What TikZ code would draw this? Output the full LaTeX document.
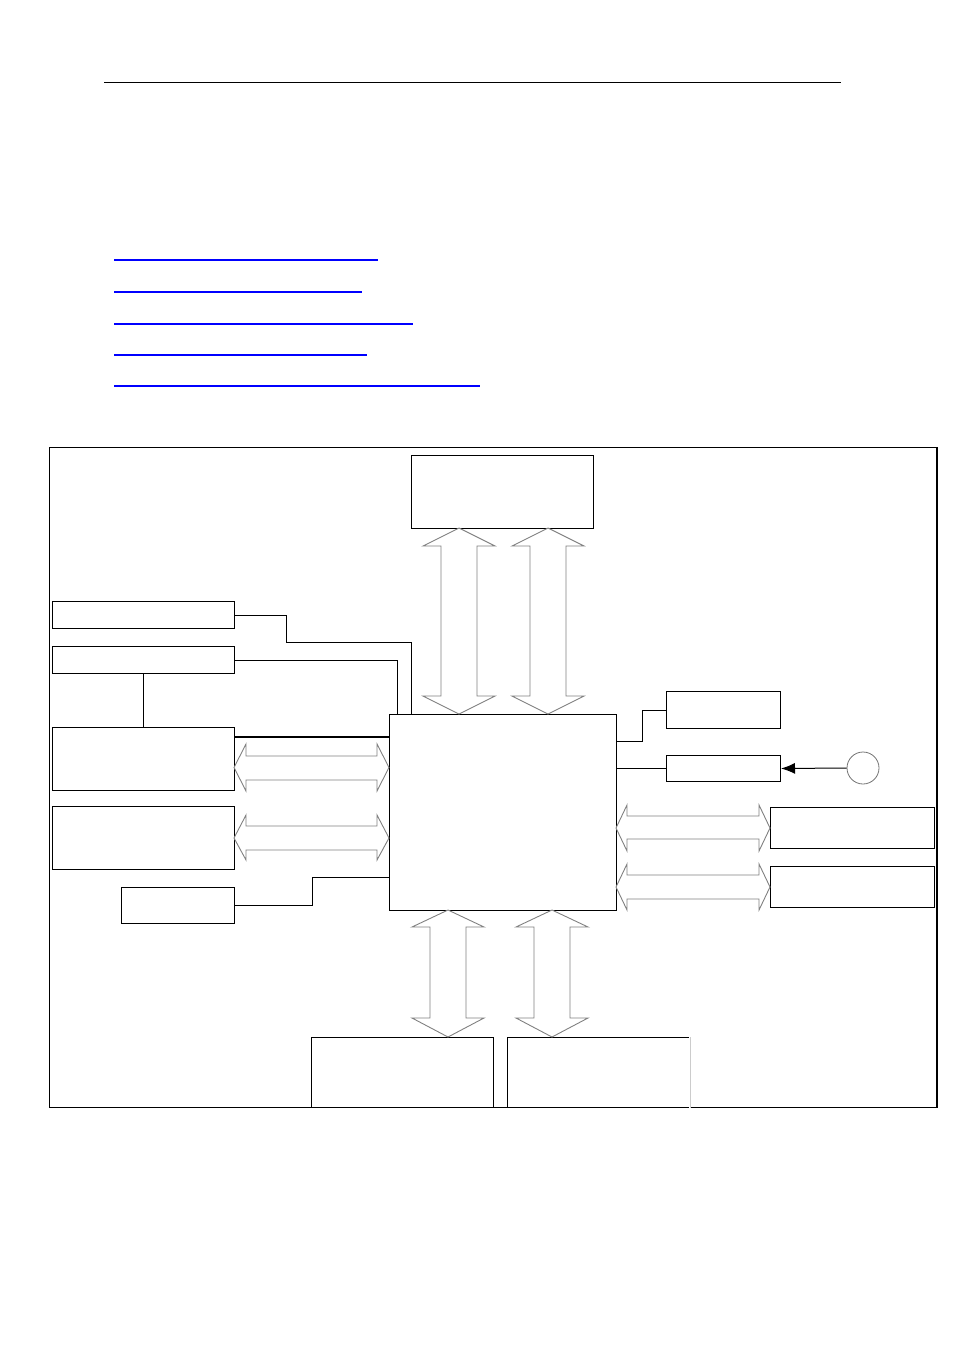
\documentclass[tikz,border=0pt]{standalone}
\usetikzlibrary{arrows.meta,calc}
\begin{document}
\begin{tikzpicture}[x=1pt,y=-1pt,
  box/.style={draw=black,line width=1pt,inner sep=0pt,anchor=north west},
  wire/.style={draw=black,line width=1pt},
  blockarrow/.style={draw=black!50,line width=0.9pt,fill=white,line join=miter},
  link/.style={draw=blue,line width=1.3pt}]
\useasboundingbox (0,0) rectangle (954,1351);
% header rule
\draw[line width=0.8pt] (104,82) -- (841,82);
% blue link underlines
\draw[link] (114,260) -- (378,260);
\draw[link] (114,292) -- (362,292);
\draw[link] (114,324) -- (413,324);
\draw[link,line width=2pt] (114,355) -- (367,355);
\draw[link] (114,386) -- (480,386);
% outer frame
\draw[line width=1pt] (49,447) rectangle (937,1107);
\draw[line width=2pt] (937,447) -- (937,1107);
% boxes
\node[box,minimum width=182pt,minimum height=73pt] (top) at (411,455) {};
\node[box,minimum width=227pt,minimum height=196pt] (ctr) at (389,714) {};
\node[box,minimum width=182pt,minimum height=27pt] (A) at (52,601) {};
\node[box,minimum width=182pt,minimum height=27pt] (B) at (52,646) {};
\node[box,minimum width=182pt,minimum height=63pt] (C) at (52,727) {};
\node[box,minimum width=182pt,minimum height=63pt] (D) at (52,806) {};
\node[box,minimum width=113pt,minimum height=36pt] (E) at (121,887) {};
\node[box,minimum width=114pt,minimum height=37pt] (F) at (666,691) {};
\node[box,minimum width=114pt,minimum height=26pt] (G) at (666,755) {};
\node[box,minimum width=164pt,minimum height=41pt] (H) at (770,807) {};
\node[box,minimum width=164pt,minimum height=41pt] (I) at (770,866) {};
\node[box,minimum width=182pt,minimum height=70pt] (J) at (311,1037) {};
\node[box,minimum width=182pt,minimum height=70pt] (K) at (507,1037) {};
\draw[white,line width=1.2pt] (K.north east) -- (K.south east);
\draw[black!20,line width=1pt] (K.north east) -- (K.south east);
\node[circle,draw=black!55,line width=0.8pt,minimum size=32pt,inner sep=0pt] (clk) at (863,768) {};
% wires
\draw[wire] (A.east) -| ++(51,27) -| ([xshift=22pt]ctr.north west);
\draw[wire] (B.east) -| ([xshift=8pt]ctr.north west);
\draw[wire] (B.south) -- (C.north);
\draw[wire,line width=2pt] ([yshift=-10pt]C.north east) -- ([yshift=-10pt]C.north east -| ctr.west);
\draw[wire] (E.east) -| ++(77,-28) coordinate (e1) -- (e1 -| ctr.west);
\draw[wire] ([yshift=-27pt]ctr.north east) -- ++(25,0) |- (F.west);
\draw[wire] (G.west -| ctr.east) -- (G.west);
\draw[wire,-{Latex[length=14pt,width=11pt]}] (clk.west) -- (G.east);
% vertical block arrows (top)
\draw[blockarrow] (459,528) -- (495,546) -- (477,546) -- (477,696) -- (495,696) -- (459,714) -- (423,696) -- (441,696) -- (441,546) -- (423,546) -- cycle;
\draw[blockarrow] (548,528) -- (584,546) -- (566,546) -- (566,696) -- (584,696) -- (548,714) -- (512,696) -- (530,696) -- (530,546) -- (512,546) -- cycle;
% vertical block arrows (bottom)
\draw[blockarrow] (448,910) -- (484,927) -- (466,927) -- (466,1018) -- (484,1018) -- (448,1037) -- (412,1018) -- (430,1018) -- (430,927) -- (412,927) -- cycle;
\draw[blockarrow] (552,910) -- (588,927) -- (570,927) -- (570,1018) -- (588,1018) -- (552,1037) -- (516,1018) -- (534,1018) -- (534,927) -- (516,927) -- cycle;
% horizontal block arrows (left)
\draw[blockarrow] (234,767.5) -- (246,744) -- (246,756) -- (377,756) -- (377,744) -- (389,767.5) -- (377,791) -- (377,780) -- (246,780) -- (246,791) -- cycle;
\draw[blockarrow] (234,838) -- (246,815) -- (246,826) -- (377,826) -- (377,815) -- (389,838) -- (377,860) -- (377,850) -- (246,850) -- (246,860) -- cycle;
% horizontal block arrows (right)
\draw[blockarrow] (616,828) -- (627,805) -- (627,816) -- (759,816) -- (759,805) -- (770,828) -- (759,851) -- (759,839) -- (627,839) -- (627,851) -- cycle;
\draw[blockarrow] (616,887) -- (627,864) -- (627,875) -- (759,875) -- (759,864) -- (770,887) -- (759,910) -- (759,899) -- (627,899) -- (627,910) -- cycle;
\end{tikzpicture}
\end{document}
